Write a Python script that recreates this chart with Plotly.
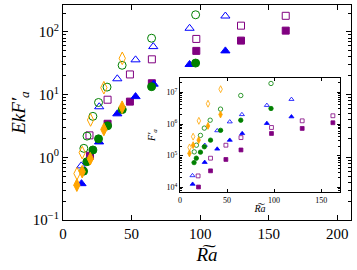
import plotly.graph_objects as go

# ---------------- main panel data (Ra~, EkF'_a) ----------------
ra_or_open = [10.2, 14.0, 20.1, 29.8, 43.2]
ek_or_open = [0.55, 1.19, 3.94, 12.9, 38.0]
ra_or_fill = [10.1, 14.0, 19.9, 29.8, 43.1]
ek_or_fill = [0.36, 0.59, 0.95, 2.78, 6.3]

ra_gr_open = [15.2, 17.5, 21.8, 25.9, 32.1, 43.1, 64.6, 96.7]
ek_gr_open = [1.39, 2.18, 4.5, 7.5, 13.2, 29.4, 79.4, 188]
ra_gr_fill = [15.0, 17.4, 21.8, 25.9, 32.5, 43.2, 64.6, 96.7]
ek_gr_fill = [0.60, 0.85, 1.31, 1.97, 3.18, 5.78, 13.4, 31.9]

ra_bl_open = [13.3, 26.4, 39.6, 52.9, 65.8, 92.3, 118.4]
ek_bl_open = [0.73, 6.4, 17.9, 35.9, 58.4, 114.5, 179.5]
ra_bl_fill = [13.5, 26.3, 39.6, 52.9, 66.1, 92.3, 118.4]
ek_bl_fill = [0.38, 1.76, 4.94, 9.3, 14.7, 30.3, 49.9]

ra_pu_open = [19.3, 32.5, 48.8, 64.8, 97.2, 129.8, 162.4]
ek_pu_open = [2.24, 8.3, 21.0, 36.6, 77.4, 126, 181]
ra_pu_fill = [19.7, 32.5, 48.8, 64.8, 97.2, 129.8, 162.4]
ek_pu_fill = [1.06, 3.43, 7.74, 15.2, 49.9, 72.8, 105]

# ---------------- inset data (Ra~, log10 F'_a) ----------------
lf_or_open = [5.26, 5.60, 6.10, 6.64, 7.10]
lf_or_fill = [5.07, 5.33, 5.49, 5.94, 6.30]
lf_gr_open = [5.12, 5.33, 5.64, 5.87, 6.12, 6.47, 6.90, 7.28]
lf_gr_fill = [4.78, 4.92, 5.11, 5.28, 5.49, 5.80, 6.12, 6.49]
lf_bl_open = [4.37, 5.33, 5.79, 6.07, 6.30, 6.59, 6.78]
lf_bl_fill = [4.10, 4.79, 5.21, 5.49, 5.70, 6.02, 6.23]
lf_pu_open = [4.36, 4.92, 5.33, 5.57, 5.89, 6.10, 6.26]
lf_pu_fill = [4.01, 4.52, 4.88, 5.18, 5.70, 5.86, 6.04]

main_xticks = [0, 50, 100, 150, 200]
inset_xticks = [0, 50, 100, 150]

ORANGE = "#FFA500"
GREEN = "#008000"
BLUE = "#0000FF"
PURPLE = "#800080"

FONT = "Liberation Serif"

fig = go.Figure()

series = [
    (ra_pu_open, ek_pu_open, lf_pu_open, "square-open", PURPLE, 7),
    (ra_pu_fill, ek_pu_fill, lf_pu_fill, "square", PURPLE, 7),
    (ra_bl_open, ek_bl_open, lf_bl_open, "triangle-up-open", BLUE, 8),
    (ra_bl_fill, ek_bl_fill, lf_bl_fill, "triangle-up", BLUE, 8),
    (ra_gr_open, ek_gr_open, lf_gr_open, "circle-open", GREEN, 8),
    (ra_gr_fill, ek_gr_fill, lf_gr_fill, "circle", GREEN, 8),
    (ra_or_open, ek_or_open, lf_or_open, "diamond-tall-open", ORANGE, 9),
    (ra_or_fill, ek_or_fill, lf_or_fill, "diamond-tall", ORANGE, 9),
]

for ra, ek, lf, sym, col, sz in series:
    fig.add_trace(go.Scatter(
        x=ra, y=ek, mode="markers", xaxis="x", yaxis="y",
        marker=dict(symbol=sym, color=col, size=sz, line=dict(color=col, width=1)),
        showlegend=False))
for ra, ek, lf, sym, col, sz in series:
    fig.add_trace(go.Scatter(
        x=ra, y=[10 ** v for v in lf], mode="markers", xaxis="x2", yaxis="y2",
        marker=dict(symbol=sym, color=col, size=sz * 0.55, line=dict(color=col, width=0.8)),
        showlegend=False))

def minor_vals(lo, hi):
    vals = []
    for d in range(lo, hi + 1):
        for m in range(2, 10):
            vals.append(m * 10 ** d)
    return vals

fig.update_layout(
    width=357, height=270,
    margin=dict(l=63, r=6, t=5, b=50, autoexpand=False),
    paper_bgcolor="white", plot_bgcolor="white",
    font=dict(family=FONT, color="black"),
    xaxis=dict(
        domain=[0, 1], range=[0, 210], automargin=False,
        tickvals=main_xticks, ticktext=[str(v) for v in main_xticks],
        ticks="inside", ticklen=5, tickwidth=1, tickcolor="black",
        showline=True, linecolor="black", linewidth=1, mirror="ticks",
        showgrid=False, zeroline=False, tickfont=dict(size=15),
        title=dict(text="<i>R͠a</i>", font=dict(size=19), standoff=6),
    ),
    yaxis=dict(
        domain=[0, 1], type="log", range=[-1, 2.43], automargin=False,
        tickvals=[0.1, 1, 10, 100],
        ticktext=["10<sup>−1</sup>", "10<sup>0</sup>", "10<sup>1</sup>", "10<sup>2</sup>"],
        ticks="inside", ticklen=5, tickwidth=1, tickcolor="black",
        minor=dict(tickvals=minor_vals(-1, 2), ticks="inside", ticklen=3,
                   tickcolor="black", showgrid=False),
        showline=True, linecolor="black", linewidth=1, mirror="ticks",
        showgrid=False, zeroline=False, tickfont=dict(size=15),
        title=dict(text="<i>EkF′<sub>a</sub></i>", font=dict(size=19), standoff=2),
    ),
    xaxis2=dict(
        domain=[0.406, 0.962], anchor="y2", range=[0, 170], automargin=False,
        tickvals=inset_xticks, ticktext=[str(v) for v in inset_xticks],
        ticks="inside", ticklen=3, tickwidth=1, tickcolor="black",
        showline=True, linecolor="black", linewidth=1, mirror="ticks",
        showgrid=False, zeroline=False, tickfont=dict(size=8),
        title=dict(text="<i>R͠a</i>", font=dict(size=10), standoff=1),
    ),
    yaxis2=dict(
        domain=[0.13, 0.66], anchor="x2", type="log", range=[3.85, 7.45], automargin=False,
        tickvals=[1e4, 1e5, 1e6, 1e7],
        ticktext=["10<sup>4</sup>", "10<sup>5</sup>", "10<sup>6</sup>", "10<sup>7</sup>"],
        ticks="inside", ticklen=3, tickwidth=1, tickcolor="black",
        minor=dict(tickvals=minor_vals(3, 7), ticks="inside", ticklen=2,
                   tickcolor="black", showgrid=False),
        showline=True, linecolor="black", linewidth=1, mirror="ticks",
        showgrid=False, zeroline=False, tickfont=dict(size=8),
        title=dict(text="<i>F′<sub>a</sub></i>", font=dict(size=10), standoff=9),
    ),
)

fig.write_html("out.html", config={"displayModeBar": False},
               post_script="document.body.style.margin='0';")
